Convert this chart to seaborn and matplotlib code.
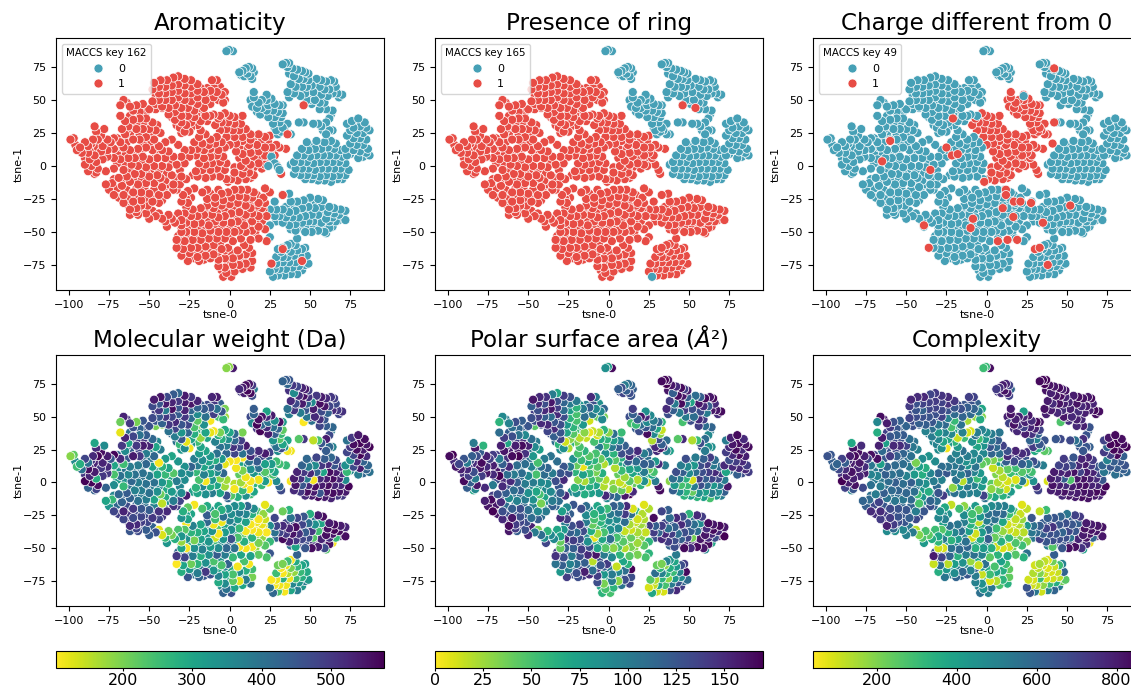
import pandas as pd
import matplotlib
matplotlib.use('Agg')
import matplotlib.pyplot as plt
from matplotlib.cm import ScalarMappable
from matplotlib.colors import Normalize
import seaborn as sns

# each row is tsne-0, tsne-1, molecular weight, polar surface area, complexity
top = [(-2,87,190,85,300),(-0.5,88,185,75,310),(2,87,545,165,830)]
small = [(6,71,520,120,720),(8,72,545,130,760),(10,74,560,100,800),(12,75,550,110,780),(14,74,500,115,700),
         (11,70,570,120,820),(13,68,565,130,790),(15,71,380,120,600),(9,68,540,135,750),(14,66,470,125,700),
         (7,69,500,130,720),(12,72,575,100,830)]
upper = [(33,77,430,165,840),(35,78,440,168,850),(37,78,450,160,850),(36,75,420,170,855),(39,74,500,160,820),
         (42,73,480,150,810),(45,72,530,165,830),(47,71,540,140,800),(49,70,490,155,820),(40,68,350,120,790),
         (43,66,520,165,810),(46,66,555,160,830),(49,65,510,120,780),(38,62,520,140,800),(41,60,470,100,760),
         (45,60,540,165,820),(48,60,430,110,790),(36,56,400,150,820),(40,55,500,120,800),(44,53,380,100,770),
         (47,55,450,140,760),(37,52,380,130,790),(51,61,350,70,780),(54,66,500,110,800),(57,65,540,120,830),
         (60,64,520,165,820),(63,65,500,160,810),(65,64,490,165,840),(52,56,540,130,790),(56,60,560,160,820),
         (59,58,550,150,770),(62,58,480,120,800),(66,60,470,150,780),(53,50,520,110,770),(57,54,470,130,760),
         (61,53,430,100,790),(64,55,520,160,800),(67,55,500,160,840),(70,54,510,165,830),(68,52,480,150,830),
         (37,70,510,160,820),(41,63,540,150,800),(44,63,480,130,810),(38,58,530,165,830),(50,62,440,120,790),
         (54,62,530,140,810),(58,61,545,150,800),(62,61,500,160,820),(42,57,510,110,790),(46,57,420,130,780),
         (50,57,520,150,800),(55,57,550,165,820),(60,55,490,140,780),(64,59,510,150,800),(66,57,480,130,820)]
diag = [(43,33,230,45,640),(46,33,500,150,680),(48,50,390,100,810),(50,50,560,160,830),(46,46,105,50,270),
        (51,47,400,130,750),(56,48,510,150,790),(59,48,450,140,770),(56,43,480,140,770),(60,43,440,110,790),
        (64,42,420,115,650),(52,32,150,20,680),(55,32,240,55,560),(57,30,450,130,600),(60,33,540,110,750),
        (62,36,470,90,650),(63,39,380,100,600),(60,24,440,100,640),(62,27,420,85,640),(64,27,370,85,620),
        (58,27,500,130,650)]
right = [(80,36,545,165,840),(76,34,500,155,810),(73,32,400,100,700),(84,33,560,150,830),(77,29,560,160,850),
         (81,30,570,165,860),(85,29,550,160,830),(87,27,575,165,860),(75,27,500,150,600),(79,25,560,165,850),
         (83,25,540,150,830),(73,23,480,140,720),(77,21,480,150,700),(81,21,570,165,840),(85,20,520,155,620),
         (75,17,340,130,500),(79,16,520,140,620),(83,16,430,150,640),(86,13,420,140,650),(72,13,340,150,600),
         (77,12,470,150,640),(81,11,540,150,620),(85,10,430,150,620),(73,8,260,70,540),(80,6,380,120,560),
         (87,8,400,140,600),(79,33,550,160,840),(75,30,520,150,780),(83,29,560,165,850),(78,26,555,160,830),
         (75,23,490,145,700),(83,20,500,150,640),(78,18,430,140,610),(81,14,480,145,630),(75,9,350,110,590),
         (83,7,420,130,600),(84,13,460,150,640)]
east = [(48,18,420,130,720),(54,19,480,100,640),(59,18,440,120,780),(63,19,420,140,780),(66,17,470,110,720),
        (45,13,430,100,700),(49,12,380,90,710),(53,13,350,80,650),(57,13,500,130,770),(61,14,520,140,800),
        (65,13,450,100,720),(69,12,500,110,650),(42,8,530,130,800),(46,8,500,120,780),(50,7,520,90,790),
        (54,8,430,110,820),(58,8,300,130,700),(62,8,560,140,800),(66,8,540,150,780),(70,7,510,140,700),
        (40,3,540,110,800),(44,3,510,100,760),(48,3,380,60,620),(52,2,110,10,270),(56,3,520,140,810),
        (60,3,540,120,820),(64,3,560,135,790),(68,3,530,130,760),(72,2,350,100,640),(41,-2,550,80,820),
        (45,-2,450,50,790),(49,-2,520,55,760),(53,-3,560,100,800),(57,-2,540,130,820),(61,-2,560,110,830),
        (65,-2,530,80,780),(69,-2,520,100,780),(74,-3,570,160,850),(40,-6,520,120,790),(44,-7,500,90,800),
        (48,-7,560,60,820),(52,-7,540,40,790),(56,-8,450,85,800),(60,-7,550,75,820),(64,-8,560,100,810),
        (68,-7,550,90,840),(72,-7,540,120,830),(47,-10,520,60,770),(51,-10,540,75,810),(55,-11,560,60,800),
        (59,-11,540,75,830),(63,-12,530,50,820),(67,-10,500,80,810),(70,-10,500,100,780),(38,1,110,30,90),
        (51,15,430,110,700),(55,16,500,100,660),(60,11,480,130,790),(64,10,520,120,760),(44,6,510,110,780),
        (52,5,530,95,800),(60,6,540,135,810),(67,5,520,135,770),(44,0,520,90,780),(52,-1,540,85,790),
        (58,0,550,125,820),(64,0,540,115,800),(42,-4,530,100,800),(50,-5,550,60,800),(57,-5,530,100,810),
        (63,-5,555,90,820),(70,-5,530,100,790),(46,-4,480,70,770),(54,-9,550,50,800),(62,-9,540,70,820)]
midup = [(15,56,440,140,800),(15,52,430,120,820),(18,48,560,120,790),(17,44,570,55,820),(14,45,350,50,700),
         (20,50,550,160,790),(23,54,300,85,400),(23,50,520,150,780),(26,51,540,90,810),(28,47,340,100,760),
         (24,46,400,90,780),(20,44,420,110,740),(23,42,520,125,700),(27,42,400,110,780),(31,46,560,115,840),
         (33,46,320,60,810),(30,41,430,70,780),(33,40,220,15,700),(13,50,470,130,790),(19,39,570,130,770),
         (24,37,540,165,790),(28,37,440,90,740),(32,37,260,30,600),(27,32,330,20,600),(31,33,230,130,500),
         (33,29,300,120,640),(29,27,400,150,720),(32,26,470,160,350),(34,27,330,140,620),(36,24,110,95,250),
         (38,24,115,75,280),(36,32,300,110,650),(30,24,350,150,360),(17,47,540,100,800),(21,47,500,130,780),
         (25,49,480,100,790),(29,44,400,80,770),(17,41,500,120,760),(22,39,520,150,760),(26,40,450,100,760),
         (30,35,350,50,680),(31,30,320,110,620),(28,29,380,130,690)]
north = [(-47,63,540,160,770),(-43,65,550,150,760),(-39,65,470,145,770),(-35,67,440,100,690),(-32,68,420,70,720),
         (-28,66,540,140,740),(-24,65,500,130,760),(-20,62,530,100,730),(-48,58,470,120,720),(-44,60,450,150,660),
         (-40,60,540,130,700),(-36,61,530,160,710),(-32,62,500,130,720),(-28,61,540,115,700),(-24,60,550,100,740),
         (-20,57,430,60,640),(-16,56,440,100,660),(-12,57,460,120,620),(-8,56,400,90,600),(-11,65,530,150,710),
         (-8,65,540,100,700),(-44,55,500,130,650),(-40,55,380,150,610),(-36,56,560,160,690),(-32,57,450,140,700),
         (-28,55,530,110,680),(-24,55,420,75,650),(-20,52,350,50,580),(-15,50,400,110,600),(-10,52,490,100,580),
         (-5,54,450,90,520),(-3,56,200,115,380),(-4,48,260,90,350),(-7,50,240,40,170),(-3,50,170,35,190),
         (-48,49,470,130,700),(-44,50,450,140,670),(-40,50,500,120,660),(-36,50,480,110,650),(-32,52,440,150,660),
         (-28,50,500,130,700),(-24,49,410,60,500),(-20,47,220,50,310),(-16,44,340,80,550),(-12,47,110,12,150),
         (-42,45,430,150,620),(-38,44,500,150,620),(-34,46,520,125,640),(-30,44,450,130,550),(-26,44,480,80,580),
         (-22,42,240,60,280),(-19,44,190,55,340),(-15,38,300,30,500),(-12,38,120,5,100),(-10,39,110,15,90),
         (-6,38,200,20,520),(-38,39,400,135,500),(-34,41,480,150,560),(-30,38,330,125,420),(-26,38,420,70,500),
         (-22,37,280,45,480),(-18,34,180,18,110),(-14,34,300,15,300),(-34,35,380,120,520),(-30,33,450,135,480),
         (-27,31,120,12,380),(-24,33,300,30,380),(-28,26,350,85,450),(-25,26,110,20,60),(-31,29,260,60,500),
         (-45,62,520,155,760),(-41,63,500,150,750),(-37,63,530,140,740),(-33,65,460,110,710),(-30,64,510,120,730),
         (-26,63,540,125,740),(-22,59,520,110,700),(-18,59,440,80,670),(-14,59,470,100,640),(-10,60,500,130,650),
         (-6,60,430,85,610),(-46,54,490,140,680),(-42,52,470,130,660),(-38,53,430,140,640),(-34,54,500,150,670),
         (-30,54,480,130,660),(-26,53,460,100,640),(-22,51,380,70,560),(-18,50,360,60,540),(-13,53,420,100,590),
         (-8,53,400,90,560),(-46,47,450,130,670),(-40,47,480,135,640),(-36,46,500,130,620),(-32,48,470,125,620),
         (-28,46,460,100,570),(-24,45,350,70,480),(-21,39,260,50,380),(-17,40,300,60,470),(-36,37,420,130,520),
         (-32,36,400,125,490),(-28,35,350,90,460),(-24,29,340,60,430),(-20,31,250,35,330),(-18,27,300,50,420),
         (-33,31,400,110,480),(-30,25,330,90,470)]
far_west = [(-99,20,190,165,650),(-97,21,220,170,640),(-93,14,280,135,600),(-95,12,250,160,610),(-90,18,480,125,700),
            (-88,15,400,100,620),(-85,20,520,120,800),(-82,20,570,130,840),(-84,30,300,100,370),(-83,26,520,160,820),
            (-78,28,350,60,760),(-80,23,560,120,830),(-76,20,540,155,790),(-79,15,530,165,810),(-74,18,450,140,700),
            (-72,21,570,140,830),(-68,18,520,100,830),(-66,14,250,120,400),(-92,10,400,155,680),(-88,10,560,150,760),
            (-84,8,540,130,820),(-80,11,500,160,780),(-76,12,520,150,760),(-87,5,530,140,800),(-83,3,280,100,790),
            (-79,5,500,140,780),(-76,7,500,160,800),(-90,1,575,165,860),(-86,0,570,120,800),(-82,-2,560,160,820),
            (-88,-4,430,120,700),(-83,-5,480,90,640),(-77,-4,430,150,680),(-84,-6,430,70,500),(-96,16,350,150,620),
            (-91,14,420,130,660),(-86,17,500,130,760),(-82,14,530,150,800),(-77,16,500,150,770),(-90,6,500,145,740),
            (-85,12,520,140,790),(-81,7,520,150,800),(-84,-1,540,140,810),(-88,2,550,145,820)]
west = [(-68,46,210,60,480),(-66,50,530,90,830),(-62,45,500,95,800),(-58,46,200,130,660),(-54,47,450,120,610),
        (-50,43,460,125,600),(-46,43,200,45,660),(-42,44,190,130,640),(-68,38,120,110,350),(-65,34,530,140,800),
        (-60,35,480,130,640),(-56,36,400,105,620),(-52,36,440,90,630),(-48,33,420,110,570),(-67,28,500,155,790),
        (-63,30,300,70,400),(-58,28,500,155,770),(-54,28,540,165,760),(-50,28,530,155,700),(-46,27,300,90,540),
        (-43,25,380,75,500),(-70,21,430,140,700),(-65,24,350,160,580),(-60,20,540,165,720),(-56,20,500,170,620),
        (-52,22,380,145,600),(-47,20,420,80,560),(-44,15,110,50,210),(-72,13,300,155,540),(-67,14,480,120,590),
        (-62,12,380,150,600),(-57,13,380,110,580),(-52,14,420,110,570),(-48,12,310,95,530),(-42,12,270,110,400),
        (-38,11,300,115,350),(-72,6,240,150,500),(-68,5,400,170,500),(-63,6,360,110,620),(-59,6,400,100,560),
        (-54,7,400,110,560),(-50,5,380,90,500),(-45,6,300,50,420),(-40,6,260,110,350),(-35,7,230,100,490),
        (-30,7,350,125,600),(-72,-2,350,100,560),(-66,-3,260,150,520),(-61,1,420,150,570),(-57,0,380,120,620),
        (-52,-1,400,100,570),(-47,0,400,100,620),(-42,0,330,90,500),(-38,-1,270,90,450),(-33,1,380,130,520),
        (-28,2,350,150,500),(-69,-9,420,130,520),(-64,-8,440,120,620),(-59,-6,370,110,580),(-55,-6,380,120,600),
        (-50,-8,400,85,590),(-45,-7,340,70,560),(-43,-9,210,50,300),(-36,-7,320,90,350),(-30,-8,350,120,650),
        (-27,-10,540,150,720),(-77,-14,300,155,600),(-73,-13,260,165,580),(-67,-15,430,150,700),(-62,-12,430,90,550),
        (-57,-14,400,95,540),(-52,-13,380,100,540),(-47,-13,300,85,580),(-42,-16,150,35,280),(-35,-14,380,100,600),
        (-31,-14,480,110,560),(-72,-22,480,170,760),(-66,-22,530,130,760),(-60,-20,500,120,680),(-55,-20,450,130,650),
        (-50,-21,440,110,640),(-44,-22,510,90,520),(-39,-22,520,100,640),(-35,-18,510,120,660),(-66,-28,480,150,720),
        (-60,-27,470,160,720),(-55,-26,480,130,650),(-48,-27,500,110,620),(-44,-28,480,120,680),(-62,-33,520,165,790),
        (-58,-32,520,140,720),(-64,48,510,100,800),(-60,42,460,110,720),(-56,41,430,115,640),(-52,41,450,120,620),
        (-62,38,400,120,700),(-58,32,500,140,690),(-54,32,510,150,670),(-50,32,460,120,610),(-45,31,360,100,550),
        (-64,27,420,150,680),(-56,24,480,160,680),(-48,24,350,100,560),(-62,24,440,155,650),(-68,20,390,135,680),
        (-64,18,450,145,640),(-54,17,410,130,590),(-50,17,390,110,560),(-46,16,300,80,490),(-40,18,320,100,470),
        (-36,20,300,105,440),(-32,16,330,110,470),(-28,12,340,125,570),(-70,10,330,160,530),(-65,9,400,135,590),
        (-60,9,390,120,590),(-55,10,400,105,570),(-46,9,320,80,480),(-42,8,280,85,430),(-36,3,300,105,470),
        (-31,-3,360,125,580),(-70,2,320,130,530),(-66,1,340,150,540),(-55,3,400,110,580),(-49,2,390,95,550),
        (-44,-3,370,80,530),(-39,-5,290,90,430),(-34,-9,340,105,500),(-62,-3,400,130,560),(-57,-3,380,115,590),
        (-52,-5,390,100,580),(-47,-4,380,90,590),(-42,-5,300,70,460),(-72,-10,360,140,560),(-66,-12,430,125,630),
        (-60,-10,410,105,560),(-55,-10,390,105,570),(-50,-11,390,90,560),(-45,-11,320,80,570),(-40,-11,280,70,430),
        (-38,-14,340,85,480),(-33,-18,490,115,600),(-75,-18,330,160,620),(-70,-17,420,160,680),(-64,-18,470,110,640),
        (-58,-17,440,105,610),(-53,-17,410,115,590),(-47,-18,370,95,600),(-41,-19,440,80,500),(-69,-24,490,160,750),
        (-63,-25,510,130,720),(-57,-24,470,125,660),(-52,-24,470,120,640),(-46,-24,490,100,580),(-42,-26,500,110,660),
        (-63,-30,510,150,760),(-55,-30,490,135,670),(-58,-35,480,140,580),(-51,-30,480,130,640)]
center = [(-19,22,320,50,500),(-15,24,300,60,560),(-12,20,330,45,520),(-8,22,400,50,480),(-22,18,380,85,520),
          (-17,17,350,55,510),(-13,16,300,70,450),(-9,17,280,60,460),(-5,18,330,40,500),(-24,12,430,100,560),
          (-20,13,380,40,540),(-16,12,300,5,560),(-12,13,350,50,440),(-7,12,400,45,550),(-3,14,120,20,240),
          (-25,7,350,130,640),(-21,8,260,60,530),(-16,6,370,75,520),(-12,7,300,55,600),(-8,8,350,35,500),
          (-4,7,420,65,430),(-19,2,240,30,550),(-15,1,110,22,130),(-11,2,330,55,480),(-6,3,190,40,300),
          (-2,2,170,20,430),(-21,-4,270,60,180),(-17,-3,360,70,430),(-12,-3,280,65,540),(-8,-2,300,70,500),
          (-3,-3,170,20,420),(-20,-8,300,85,560),(-15,-9,340,65,520),(-11,-8,380,75,510),(-6,-8,300,80,500),
          (-2,-10,460,150,700),(-22,14,390,70,530),(-18,10,330,45,540),(-14,9,340,60,500),(-10,12,340,50,520),
          (-5,10,380,45,500),(-10,20,350,50,500),(-17,-1,300,60,480),(-13,-1,310,60,510),(-9,4,340,50,520),
          (-4,0,230,45,400),(-23,-7,310,90,520),(-18,-6,320,75,500),(-14,-6,350,70,530),(-9,-6,340,75,510),
          (-5,-5,280,60,470)]
center_right = [(-7,36,280,10,560),(-3,40,290,60,500),(0,38,300,30,470),(3,37,420,110,520),(8,38,200,55,540),
                (-9,31,370,50,450),(-5,33,280,65,300),(-1,33,340,60,420),(3,32,420,75,550),(7,32,490,90,620),
                (-6,27,400,100,380),(-2,28,380,50,440),(2,27,510,100,640),(6,27,480,120,580),(10,28,540,120,700),
                (13,24,460,130,660),(-2,22,420,85,480),(3,22,480,60,600),(8,22,400,130,560),(13,20,520,150,760),
                (18,24,520,150,780),(22,22,540,100,760),(25,23,480,120,740),(0,16,110,65,240),(4,17,105,45,200),
                (8,19,105,65,260),(12,16,400,120,620),(17,16,440,110,680),(22,14,310,120,620),(26,14,320,115,540),
                (29,16,250,80,670),(31,14,250,150,600),(35,13,260,100,520),(4,11,115,20,110),(8,9,200,55,150),
                (13,10,340,70,240),(18,11,400,80,300),(22,8,230,100,260),(25,10,280,40,280),(28,8,300,50,290),
                (10,4,115,25,130),(13,1,110,45,90),(7,0,170,15,140),(9,-1,115,15,110),(18,2,115,20,85),
                (22,1,320,85,520),(24,0,105,18,80),(27,6,240,70,440),(29,1,350,100,450),(31,-3,420,160,750),
                (32,-6,470,165,700),(3,-5,110,35,180),(8,-6,260,40,240),(12,-5,105,15,100),(15,-7,300,150,420),
                (1,-10,230,120,300),(5,-11,280,110,380),(10,-10,340,160,340),(13,-9,250,170,410),(-1,-12,420,90,560),
                (-5,37,290,40,520),(0,34,350,60,450),(5,35,420,90,580),(-3,30,370,55,430),(1,30,430,70,520),
                (5,29,490,100,610),(8,25,460,110,590),(0,25,430,75,510),(4,24,470,85,590),(10,22,470,120,650),
                (15,22,500,140,720),(20,20,480,130,700),(15,17,430,110,640),(19,18,450,120,660),(24,18,420,110,640),
                (6,14,300,70,400),(10,12,340,80,440),(14,14,380,90,480),(20,13,340,100,500),(24,13,310,90,480),
                (28,12,290,90,500),(6,6,220,40,200),(10,8,270,60,260),(15,7,330,70,300),(20,6,280,80,330),
                (24,5,260,65,350),(3,-1,150,25,250),(12,-2,180,25,170),(15,-1,270,40,250),(20,-2,260,60,300),
                (6,-9,270,90,340),(11,-7,290,100,320),(26,3,290,70,420)]
arm = [(-62,-37,450,160,470),(-57,-37,470,120,460),(-52,-36,440,130,480),(-50,-40,440,150,500),(-46,-38,460,100,530),
       (-42,-40,130,110,200),(-38,-37,210,60,280),(-44,-36,120,35,130),(-40,-42,260,85,270),(-36,-40,200,90,250),
       (-34,-43,280,90,350),(-30,-41,330,75,380),(-39,-46,330,135,420),(-32,-36,240,70,300),(-30,-45,180,40,320),
       (-28,-36,230,80,260),(-48,-34,430,155,540),(-54,-33,480,160,640)]
lower = [(-29,-22,280,75,450),(-26,-19,220,90,370),(-22,-17,110,125,115),(-17,-20,240,130,300),(-14,-18,290,110,180),
         (-9,-24,240,60,290),(-5,-21,280,75,230),(-1,-20,340,55,420),(3,-18,350,120,470),(7,-18,310,110,500),
         (11,-18,420,150,520),(15,-20,350,10,430),(22,-17,120,8,80),(25,-20,230,20,120),(-30,-27,340,150,480),
         (-26,-28,300,140,500),(-14,-25,440,90,470),(-9,-28,250,50,320),(-4,-26,400,60,430),(1,-24,350,100,560),
         (6,-23,380,110,590),(10,-24,360,140,580),(14,-24,280,110,300),(18,-28,110,12,120),(21,-24,180,20,110),
         (-27,-31,110,100,400),(-23,-33,370,130,560),(-18,-32,300,140,540),(-14,-30,420,100,520),(-10,-32,115,40,340),
         (-5,-30,115,60,120),(0,-29,370,85,520),(5,-28,330,90,560),(10,-30,310,110,380),(13,-32,110,22,100),
         (17,-30,115,15,105),(22,-28,140,20,170),(-24,-38,270,120,340),(-20,-38,280,110,490),(-16,-37,300,130,560),
         (-11,-37,340,65,400),(-7,-39,108,25,100),(-3,-38,320,50,420),(1,-36,340,85,560),(6,-35,260,90,300),
         (10,-37,110,15,170),(14,-36,108,12,110),(18,-38,115,22,110),(23,-38,105,15,130),(-27,-43,340,150,520),
         (-22,-44,200,140,330),(-18,-43,310,130,420),(-13,-45,330,85,560),(-9,-42,140,5,95),(-4,-43,330,70,360),
         (1,-43,460,110,620),(5,-42,240,50,230),(9,-45,280,45,340),(14,-42,270,40,310),(18,-46,200,25,270),
         (22,-48,230,45,300),(-30,-50,300,40,100),(-27,-50,110,120,90),(-22,-50,340,120,550),(-17,-51,370,140,580),
         (-12,-49,320,130,600),(-7,-50,350,70,340),(-2,-50,420,45,420),(3,-50,400,30,350),(6,-49,105,50,100),
         (10,-50,110,20,90),(14,-49,110,35,100),(-33,-56,500,145,800),(-28,-57,480,130,700),(-23,-56,380,100,600),
         (-18,-56,280,130,340),(-13,-55,340,150,520),(-8,-55,440,160,560),(-3,-55,380,100,500),(2,-57,260,90,250),
         (7,-55,300,60,330),(13,-56,310,45,380),(18,-55,220,35,260),(23,-57,240,50,340),(-33,-62,105,105,110),
         (-29,-63,300,120,560),(-24,-62,210,95,130),(-20,-62,270,110,410),(-15,-61,340,120,450),(-10,-60,240,18,170),
         (-5,-63,240,125,110),(-1,-62,430,140,560),(-30,-68,280,80,350),(-25,-66,330,100,430),(-20,-69,380,130,470),
         (-15,-68,500,155,590),(-10,-67,330,110,500),(-26,-72,450,140,540),(-19,-72,430,130,600),(-12,-70,460,150,640),
         (-27,-25,320,110,460),(-24,-24,300,120,440),(-12,-21,330,90,380),(-7,-18,300,70,420),(-2,-23,360,85,500),
         (3,-22,370,110,540),(8,-21,340,120,530),(12,-21,380,130,500),(17,-22,240,60,280),(-12,-28,380,80,470),
         (-7,-26,300,60,380),(-2,-27,380,80,500),(3,-26,350,100,570),(8,-27,340,100,470),(12,-28,250,70,300),
         (16,-26,180,45,190),(20,-32,120,25,130),(-25,-36,330,120,480),(-21,-34,340,130,540),(-16,-33,330,130,540),
         (-12,-33,370,90,490),(-8,-35,230,50,290),(-3,-33,300,65,340),(2,-32,360,85,540),(7,-32,280,90,430),
         (12,-34,140,40,170),(16,-34,120,20,130),(21,-33,130,25,150),(-30,-38,260,95,350),(-26,-40,300,125,430),
         (-22,-41,250,125,420),(-18,-40,300,120,470),(-14,-41,330,90,480),(-10,-40,230,45,240),(-5,-41,330,60,390),
         (-1,-40,380,85,520),(3,-39,350,90,500),(8,-40,220,50,260),(12,-40,170,30,190),(16,-42,200,30,230),
         (20,-42,180,30,200),(-30,-47,250,60,260),(-24,-47,280,130,430),(-20,-47,300,135,480),(-15,-48,330,120,560),
         (-10,-46,260,70,340),(-5,-46,340,60,400),(0,-47,410,80,520),(4,-46,310,40,310),(12,-46,220,40,240),
         (16,-50,180,30,210),(-32,-53,420,140,670),(-27,-54,400,135,620),(-21,-53,360,125,570),(-15,-53,330,135,550),
         (-10,-52,380,110,470),(-5,-53,400,90,450),(0,-53,350,70,390),(-31,-59,390,130,640),(-26,-60,340,115,500),
         (-21,-59,290,120,420),(-16,-58,320,125,470),(-11,-58,340,110,430),(-6,-59,330,130,370),(-28,-66,300,90,400),
         (-23,-65,300,110,420),(-17,-65,400,135,520),(-13,-64,350,115,480),(-8,-62,300,80,340),(-22,-70,400,130,500),
         (-16,-71,450,140,600)]
bottom_mid = [(-7,-65,300,150,600),(-3,-64,360,120,430),(5,-64,110,15,280),(9,-60,240,70,400),(12,-62,110,60,300),
              (-7,-71,370,140,520),(-3,-70,300,80,110),(2,-70,240,100,300),(6,-68,340,90,380),(10,-67,280,110,350),
              (14,-66,250,170,240),(-7,-76,290,130,500),(-3,-77,350,35,460),(2,-75,220,100,85),(6,-75,120,30,140),
              (10,-74,380,130,330),(14,-72,200,130,240),(-2,-81,400,50,450),(3,-80,300,60,540),(8,-78,300,105,280),
              (13,-77,400,135,340),(-4,-84,430,60,560),(1,-84,460,50,500),(1,-66,290,100,360),(5,-72,230,85,240),
              (-1,-73,320,70,320),(9,-71,300,110,300),(12,-69,260,130,290),(-5,-79,350,70,480),(0,-78,330,60,470),
              (5,-78,280,80,330),(11,-72,310,120,300),(-1,-67,330,100,360)]
east_low = [(28,-27,480,165,640),(33,-22,210,135,120),(37,-21,270,120,300),(38,-27,400,110,620),(42,-27,480,150,640),
            (46,-26,450,130,600),(50,-24,280,60,540),(55,-25,540,150,700),(58,-26,560,140,720),(62,-31,540,165,800),
            (65,-32,560,160,800),(69,-33,540,165,810),(72,-34,530,160,820),(25,-33,350,140,430),(29,-33,480,120,560),
            (33,-33,520,140,620),(37,-35,530,110,700),(41,-34,560,120,740),(45,-32,480,150,640),(49,-31,410,125,660),
            (53,-32,340,110,640),(57,-31,300,90,620),(61,-35,560,150,820),(65,-36,570,165,820),(68,-37,560,150,810),
            (28,-38,400,140,540),(31,-38,480,115,580),(35,-39,500,150,620),(39,-39,550,140,660),(43,-39,510,110,640),
            (47,-38,440,130,600),(51,-37,500,120,680),(55,-37,250,110,640),(60,-40,560,160,800),(64,-39,550,150,810),
            (33,-43,565,150,700),(37,-45,530,140,640),(41,-44,500,130,660),(45,-43,480,120,660),(49,-42,470,135,660),
            (52,-42,230,35,550),(57,-43,530,160,780),(62,-42,520,150,820),(66,-42,260,130,600),(72,-41,560,170,810),
            (25,-45,260,60,190),(41,-49,300,130,260),(47,-50,450,165,640),(51,-50,560,150,830),(55,-49,540,165,830),
            (59,-50,470,160,740),(62,-47,560,165,760),(64,-46,108,70,60),(60,-51,230,90,400),(42,-55,430,100,620),
            (25,-54,450,60,560),(24,-37,320,120,420),(31,-35,490,130,580),(35,-36,510,140,640),(39,-36,540,125,680),
            (43,-36,520,120,650),(47,-35,470,130,640),(51,-34,450,120,670),(55,-33,400,115,650),(59,-37,540,150,780),
            (63,-33,550,160,810),(67,-34,550,165,810),(71,-36,540,160,810),(35,-31,480,135,630),(40,-30,470,125,640),
            (44,-29,470,140,620),(48,-28,430,125,610),(52,-28,400,110,620),(29,-42,430,130,540),(39,-42,520,130,670),
            (43,-42,490,125,650),(47,-46,470,150,640),(51,-45,500,150,720),(55,-45,520,160,780),(59,-46,510,160,770),
            (43,-47,480,140,650),(38,-48,400,120,520),(60,-44,530,160,800),(64,-43,530,150,810),(68,-41,540,165,800),
            (57,-40,500,140,720)]
bottom_right = [(33,-62,200,35,150),(36,-60,250,95,120),(38,-59,110,80,80),(41,-60,290,70,220),(30,-63,210,40,100),
                (32,-65,110,60,120),(35,-63,120,30,90),(38,-65,200,65,80),(42,-64,260,80,100),(45,-63,300,130,300),
                (47,-62,320,140,500),(29,-69,250,110,140),(33,-69,110,95,200),(36,-69,160,60,110),(40,-68,180,55,90),
                (44,-68,260,95,110),(48,-68,290,165,600),(26,-74,105,45,100),(29,-74,115,20,90),(33,-73,280,60,300),
                (37,-73,115,30,90),(41,-73,250,80,100),(45,-72,280,90,120),(49,-74,320,110,250),(25,-80,400,10,650),
                (28,-78,110,15,100),(31,-78,115,70,120),(35,-78,115,50,180),(39,-77,360,100,300),(43,-76,330,125,350),
                (47,-75,380,115,220),(27,-84,420,70,640),(30,-83,240,15,540),(34,-83,110,10,105),(38,-82,300,130,500),
                (42,-82,380,150,600),(45,-79,330,140,520),(31,-66,200,65,130),(35,-66,160,70,110),(39,-71,190,70,100),
                (43,-70,240,85,110),(47,-71,290,130,300),(35,-71,130,55,100),(31,-71,170,70,130),(28,-76,130,30,100),
                (33,-76,150,40,120),(37,-76,180,55,150),(41,-78,320,100,300),(45,-76,340,120,340),(33,-80,130,20,110),
                (37,-80,240,80,280),(41,-80,360,130,480),(29,-81,240,15,300),(44,-66,270,100,130)]

# cluster rows and the MACCS bits they carry: key 162, key 165, key 49
clusters = [(top,0,0,0),(small,0,0,0),(upper,0,0,0),(diag,0,0,0),(right,0,0,0),(east,0,0,0),(midup,0,0,1),
            (north,1,1,0),(far_west,1,1,0),(west,1,1,0),(center,1,1,0),(center_right,1,1,1),(arm,1,1,0),
            (lower,1,1,0),(bottom_mid,1,1,0),(east_low,0,1,0),(bottom_right,0,1,0)]

# points whose bit differs from the rest of their cluster: x, y, bit
odd_162 = [(46,46,1),(36,24,1),(33,-22,1),(33,-63,1),(45,-72,1),(26,-74,1),(26,7,0),(28,2,0),(24,0,0),(30,-1,0),(31,-3,0)]
odd_165 = [(46,46,1),(54,44,1),(27,-84,0)]
odd_49 = [(-60,19,1),(-25,14,1),(-21.6,8,1),(-18,9,1),(-65,3.5,1),(-35,-3,1),(-39,-45,1),(-36,-62,1),(-21,36,1),
          (-1.5,-12,1),(12,-18,1),(12,-22,1),(10,-32,1),(17,-27,1),(21,-27,1),(27.6,-28,1),(16.6,-38.6,1),(7,-57,1),
          (13,-56,1),(19,-56,1),(30,-63,1),(33,-62,1),(38,-75,1),(52,-30,1),(35,-43,1),(42,74,1),(42,33,1),(41,17,1),
          (-8.5,-40,1),(-10,-47,1),(23,53,0)]

titles_top = ['Aromaticity', 'Presence of ring', 'Charge different from 0']
titles_bottom = ['Molecular weight (Da)', r'Polar surface area ($\mathit{Å}$²)', 'Complexity']
key_names = ['MACCS key 162', 'MACCS key 165', 'MACCS key 49']
cont_cols = ['mw', 'psa', 'cx']
cont_ranges = [(103, 577), (0, 170), (41, 861)]
cbar_ticks = [[200, 300, 400, 500], [0, 25, 50, 75, 100, 125, 150], [200, 400, 600, 800]]
teal = '#46a0b6'
red = '#e74c45'

frames = []
for rows, k162, k165, k49 in clusters:
    part = pd.DataFrame(rows, columns=['x', 'y', 'mw', 'psa', 'cx'])
    part['MACCS key 162'] = k162
    part['MACCS key 165'] = k165
    part['MACCS key 49'] = k49
    frames.append(part)
# reversed so the first rows of each cluster, with the light spots, end up on top
df = pd.concat(frames, ignore_index=True).iloc[::-1]
odd_points = [odd_162, odd_165, odd_49]

W, H = 1131, 691
fig = plt.figure(figsize=(W / 100, H / 100), dpi=100)
lefts = [56, 435, 813]
palette = {0: teal, 1: red}
dot = 42


def add_box(left, top, width, height):
    return fig.add_axes([left / W, 1 - (top + height) / H, width / W, height / H])


def finish(ax, title):
    ax.set_xlim(-108, 96)
    ax.set_ylim(-94, 97)
    ax.set_xlabel('tsne-0', fontsize=8, labelpad=0.5)
    ax.set_ylabel('tsne-1', fontsize=8, labelpad=-1)
    ax.tick_params(labelsize=8)
    ax.set_title(title, fontsize=16.6, pad=6)


for i in range(3):
    ax = add_box(lefts[i], 38, 328, 252)
    sns.scatterplot(data=df, x='x', y='y', hue=key_names[i], palette=palette, s=dot, ax=ax)
    odd = pd.DataFrame(odd_points[i], columns=['x', 'y', 'bit'])
    sns.scatterplot(data=odd, x='x', y='y', hue='bit', palette=palette, s=dot, legend=False, ax=ax)
    ax.legend(title=key_names[i], loc='upper left', fontsize=8, title_fontsize=7.4)
    finish(ax, titles_top[i])

    ax = add_box(lefts[i], 355, 328, 251)
    norm = Normalize(*cont_ranges[i])
    sns.scatterplot(data=df, x='x', y='y', hue=cont_cols[i], palette='viridis_r',
                    hue_norm=norm, s=dot, legend=False, ax=ax)
    finish(ax, titles_bottom[i])

    cax = add_box(lefts[i], 651, 328, 17)
    cb = fig.colorbar(ScalarMappable(norm=norm, cmap='viridis_r'), cax=cax, orientation='horizontal')
    cb.set_ticks(cbar_ticks[i])
    cb.ax.tick_params(labelsize=11.5, length=2.5, pad=1)

fig.savefig('out.png', dpi=100)
